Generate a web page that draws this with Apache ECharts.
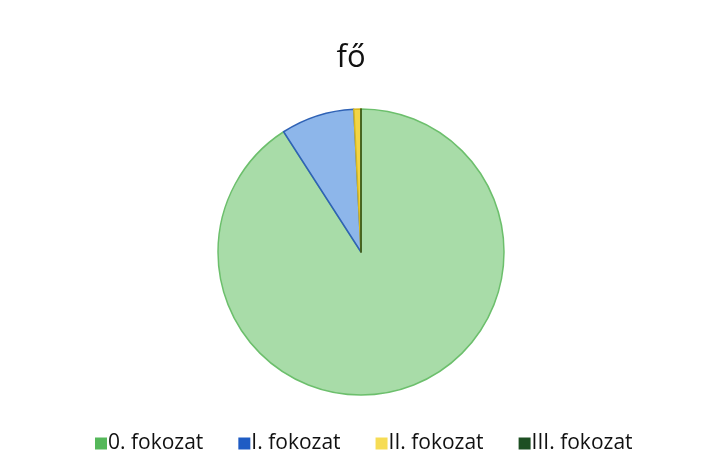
<!DOCTYPE html>
<html>
<head>
<meta charset="utf-8">
<script src="https://cdn.jsdelivr.net/npm/echarts@6/dist/echarts.min.js"></script>
<style>
  html, body { margin: 0; padding: 0; background: #fff; }
  #main { width: 702px; height: 475px; }
</style>
</head>
<body>
<div id="main"></div>
<script>
// adatok
const categories = ["0. fokozat", "I. fokozat", "II. fokozat", "III. fokozat"];
const values = [90.9, 8.3, 0.8, 0];
const fillColors = ["#a8dca8", "#8db6ea", "#f3d545", "#2e6b2e"];
const borderColors = ["#6cbf6c", "#2f62b5", "#d8b820", "#1c4a1c"];
const legendColors = ["#55b85a", "#1f5cc4", "#f6dc55", "#1d4f22"];

const chart = echarts.init(document.getElementById("main"), null, { renderer: "canvas" });

const option = {
  backgroundColor: "#fff",
  animation: false,
  title: {
    text: "fő",
    left: "center",
    top: 38,
    textStyle: { fontFamily: "Open Sans", fontSize: 31, fontWeight: "normal", color: "#111" }
  },
  legend: {
    bottom: 16,
    left: 90,
    itemWidth: 12,
    itemHeight: 12,
    itemGap: 35,
    icon: "rect",
    textStyle: { fontFamily: "Open Sans", fontSize: 21, color: "#111", padding: [0, 0, 0, -4] },
    data: categories.map((c, i) => ({ name: c, itemStyle: { color: legendColors[i], borderWidth: 0 } }))
  },
  series: [
    {
      type: "pie",
      center: [361, 252],
      radius: 143,
      startAngle: 90,
      clockwise: true,
      label: { show: false },
      labelLine: { show: false },
      emphasis: { disabled: true },
      data: categories.map((c, i) => ({
        name: c,
        value: values[i],
        itemStyle: { color: fillColors[i], borderColor: borderColors[i], borderWidth: 1.5 }
      }))
    }
  ]
};

chart.setOption(option);
</script>
</body>
</html>
